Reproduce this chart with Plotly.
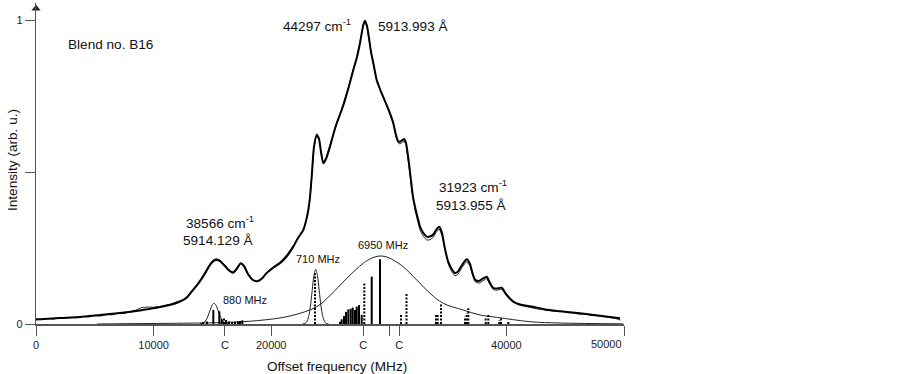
import plotly.graph_objects as go

# ---------------- data ----------------
# simulated spectrum (thick)
sim_x = [0, 2041, 3741, 5442, 7143, 8844, 9949, 10969, 11820, 12245, 12840, 13350, 13776, 14201,
         14541, 14796, 15051, 15306, 15646, 16071, 16412, 16752, 17091, 17406, 17687, 18027, 18452,
         18878, 19218, 19618, 20153, 20748, 21344, 21879, 22279, 22730, 22959, 23155, 23299, 23444,
         23639, 23869, 24065, 24235, 24430, 24660, 25000, 25340, 25570, 25995, 26276, 26616, 26981,
         27296, 27551, 27832, 27976, 28146, 28316, 28486, 28682, 28971, 29252, 29532, 29804, 30102,
         30357, 30612, 30782, 30952, 31293, 31463, 31658, 31803, 31947, 32058, 32228, 32483, 32653,
         32908, 33223, 33503, 33784, 34014, 34294, 34524, 34779, 35034, 35349, 35630, 35884, 36225,
         36625, 36905, 37117, 37330, 37670, 38010, 38325, 38605, 38886, 39200, 39600, 39966, 40587,
         41156, 42262, 43282, 44558, 46258, 47959, 49660]
sim_y = [0.0148, 0.0197, 0.0230, 0.0296, 0.0362, 0.0444, 0.0516, 0.0592, 0.0674, 0.0734, 0.0872,
         0.1118, 0.1316, 0.1556, 0.1776, 0.1941, 0.2056, 0.2105, 0.2072, 0.1908, 0.1760, 0.1688,
         0.1826, 0.1997, 0.1908, 0.1645, 0.1447, 0.1414, 0.1497, 0.1678, 0.1842, 0.1997, 0.2237,
         0.2543, 0.2829, 0.3092, 0.3388, 0.3750, 0.4178, 0.4845, 0.5832, 0.6217, 0.6086, 0.5658,
         0.5286, 0.5428, 0.5832, 0.6316, 0.6602, 0.7039, 0.7368, 0.7829, 0.8355, 0.8783, 0.9243,
         0.9836, 0.9977, 0.9803, 0.9408, 0.8947, 0.8586, 0.8026, 0.7730, 0.7467, 0.7220, 0.6931,
         0.6645, 0.6217, 0.6020, 0.5997, 0.6086, 0.5954, 0.5461, 0.5000, 0.4516, 0.4178, 0.3859,
         0.3454, 0.3201, 0.3010, 0.2872, 0.2878, 0.2944, 0.3092, 0.3201, 0.2993, 0.2467, 0.2072,
         0.1809, 0.1678, 0.1727, 0.1941, 0.2128, 0.1974, 0.1678, 0.1464, 0.1414, 0.1497, 0.1556,
         0.1349, 0.1184, 0.1168, 0.1194, 0.0987, 0.0734, 0.0641, 0.0569, 0.0480, 0.0420, 0.0350,
         0.0270, 0.0190]

# experimental spectrum (thin, noisy)
exp_x = [0, 500, 1000, 1500, 2000, 2500, 3000, 3500, 4000, 4500, 5000, 5500, 6000, 6500, 7000,
         7500, 8000, 8500, 9000, 9500, 10000, 10500, 11000, 11500, 12000, 12500,
         12840, 13350, 13776, 14201, 14541, 14796, 15051, 15306, 15646, 16071, 16412, 16752, 17091,
         17406, 17687, 18027, 18452, 18878, 19218, 19618, 20153, 20748, 21344, 21879, 22279, 22730,
         22959, 23155, 23299, 23444, 23639, 23869, 24065, 24235, 24430, 24660, 25000, 25340, 25570,
         25995, 26276, 26616, 26981, 27296, 27551, 27832, 27976, 28146, 28316, 28486, 28682, 28971,
         29252, 29532, 29804, 30102, 30357, 30612, 30782, 30952, 31293, 31463, 31658, 31803, 31947,
         32058, 32228, 32483, 32653, 32908, 33223, 33503, 33784, 34014, 34294, 34524, 34779, 35034,
         35349, 35630, 35884, 36225, 36625, 36905, 37117, 37330, 37670, 38010, 38325, 38605, 38886,
         39200, 39600, 39966, 40587,
         41200, 41700, 42200, 42700, 43200, 43700, 44200, 44700, 45200, 45700, 46200, 46700, 47200,
         47700, 48200, 48700, 49200, 49700]
exp_y = [0.017, 0.014, 0.018, 0.016, 0.021, 0.019, 0.022, 0.020, 0.025, 0.023, 0.028, 0.026, 0.031,
         0.030, 0.036, 0.034, 0.041, 0.046, 0.054, 0.056, 0.055, 0.057, 0.062, 0.066, 0.074, 0.080,
         0.091, 0.115, 0.135, 0.160, 0.183, 0.199, 0.211, 0.215, 0.211, 0.193, 0.178, 0.171, 0.184,
         0.199, 0.189, 0.162, 0.142, 0.139, 0.149, 0.170, 0.188, 0.204, 0.229, 0.258, 0.284, 0.308,
         0.336, 0.371, 0.413, 0.481, 0.580, 0.626, 0.612, 0.568, 0.531, 0.547, 0.589, 0.636, 0.662,
         0.708, 0.741, 0.786, 0.838, 0.882, 0.928, 0.985, 0.995, 0.975, 0.935, 0.890, 0.855, 0.800,
         0.770, 0.744, 0.719, 0.690, 0.662, 0.616, 0.596, 0.592, 0.602, 0.590, 0.540, 0.492, 0.442,
         0.408, 0.375, 0.334, 0.309, 0.289, 0.276, 0.277, 0.285, 0.301, 0.313, 0.292, 0.240, 0.199,
         0.172, 0.158, 0.163, 0.186, 0.206, 0.191, 0.161, 0.139, 0.134, 0.143, 0.150, 0.129, 0.113,
         0.111, 0.115, 0.095, 0.071,
         0.061, 0.056, 0.053, 0.049, 0.046, 0.044, 0.041, 0.042, 0.037, 0.036, 0.032, 0.033, 0.028,
         0.027, 0.024, 0.021, 0.019, 0.013]

# 880 MHz profile
g880_x = [13940, 14240, 14390, 14540, 14690, 14840, 14990, 15140, 15290, 15440, 15590, 15740,
          15890, 16040, 16340]
g880_y = [0.0004, 0.0038, 0.0091, 0.0188, 0.033, 0.049, 0.0628, 0.068, 0.0628, 0.049, 0.033,
          0.0188, 0.0091, 0.0038, 0.0004]

# 710 MHz profile
g710_x = [22684, 22884, 23034, 23184, 23334, 23484, 23634, 23784, 23934, 24084, 24234, 24384,
          24534, 24684, 24884]
g710_y = [0.0002, 0.0021, 0.0082, 0.0248, 0.059, 0.1097, 0.159, 0.18, 0.159, 0.1097, 0.059,
          0.0248, 0.0082, 0.0021, 0.0002]

# 6950 MHz profile
g6950_x = [5187, 9694, 13946, 15901, 18767, 21599, 23869, 25000, 26420, 27832, 28571, 29252,
           29932, 30527, 31233, 32373, 33503, 34635, 36335, 37755, 39175, 42007, 44558, 49915]
g6950_y = [0.0, 0.0016, 0.0033, 0.0049, 0.0109, 0.0263, 0.0569, 0.0938, 0.150, 0.200, 0.217,
           0.2237, 0.219, 0.207, 0.188, 0.145, 0.101, 0.068, 0.046, 0.0296, 0.022, 0.0076,
           0.0033, 0.0005]

# hyperfine component sticks
solid_pos = [14201, 14541, 15077, 15587, 15791, 16156, 16412, 16667, 16922, 17177, 17347, 17543,
             25850, 25995, 26190, 26361, 26556, 26760, 26931, 27126, 27271, 27466, 27696,
             28546, 29252]
solid_h = [0.0066, 0.008, 0.046, 0.042, 0.016, 0.013, 0.008, 0.006, 0.007, 0.008, 0.010, 0.012,
           0.0076, 0.0155, 0.026, 0.040, 0.048, 0.050, 0.054, 0.046, 0.057, 0.0625, 0.030,
           0.156, 0.213]
dash_pos = [15986, 23724, 27917, 31037, 31505, 34014, 34158, 34439, 36480, 36625, 36761, 38240,
            38461, 39397, 39541, 40161]
dash_h = [0.020, 0.167, 0.136, 0.030, 0.101, 0.030, 0.030, 0.068, 0.024, 0.035, 0.052, 0.019,
          0.032, 0.013, 0.019, 0.0076]

# axis ticks
x_tickvals = [0, 10000, 16071, 20000, 27832, 30017, 30892, 40000, 50000]
x_ticktext = ["0", "10000", "C", "20000", "C", "", "C", "40000", ""]
y_tickvals = [0, 0.5, 1]
y_ticktext = ["0", "", "1"]


def sticks(pos, h):
    xs, ys = [], []
    for p, v in zip(pos, h):
        xs += [p, p, None]
        ys += [0, v, None]
    return xs, ys


FONT = "Liberation Sans, Arial, sans-serif"
Y_TOP = 1.056
fig = go.Figure()

fig.add_trace(go.Scatter(x=g6950_x, y=g6950_y, mode="lines", line=dict(color="#222", width=1, shape="spline"),
                         hoverinfo="skip"))
fig.add_trace(go.Scatter(x=g880_x, y=g880_y, mode="lines", line=dict(color="#222", width=1, shape="spline"),
                         hoverinfo="skip"))
fig.add_trace(go.Scatter(x=g710_x, y=g710_y, mode="lines", line=dict(color="#222", width=1, shape="spline"),
                         hoverinfo="skip"))
sx, sy = sticks(solid_pos, solid_h)
fig.add_trace(go.Scatter(x=sx, y=sy, mode="lines", line=dict(color="black", width=2), connectgaps=False))
dx, dy = sticks(dash_pos, dash_h)
fig.add_trace(go.Scatter(x=dx, y=dy, mode="lines", line=dict(color="black", width=2, dash="2px,1.5px"),
                         connectgaps=False))
fig.add_trace(go.Scatter(x=exp_x, y=exp_y, mode="lines", line=dict(color="#333", width=1)))
fig.add_trace(go.Scatter(x=sim_x, y=sim_y, mode="lines", line=dict(color="black", width=2, shape="spline",
                                                                    smoothing=0.6)))
# arrowhead at the top of the y axis
fig.add_trace(go.Scatter(x=[0], y=[Y_TOP - 0.018], mode="markers", cliponaxis=False, hoverinfo="skip",
                         marker=dict(symbol="triangle-up", size=8, color="#222", line=dict(width=0))))

BIG = 13.6
ann = []
def txt(x, y, t, size=BIG, **kw):
    d = dict(x=x, y=y, xref="x", yref="y", text=t, showarrow=False,
             font=dict(family=FONT, size=size, color="#111"), xanchor="center", yanchor="middle")
    d.update(kw)
    ann.append(d)

txt(6293, 0.918, "Blend no. B16")
txt(23895, 0.985, "44297 cm<sup>-1</sup>")
txt(32058, 0.978, "5913.993 Å")
txt(15646, 0.336, "38566 cm<sup>-1</sup>")
txt(15476, 0.274, "5914.129 Å")
txt(37160, 0.453, "31923 cm<sup>-1</sup>")
txt(36990, 0.391, "5913.955 Å")
txt(17772, 0.079, "880 MHz", size=11)
txt(23937, 0.213, "710 MHz", size=11)
txt(29507, 0.260, "6950 MHz", size=11)
# right-aligned last x tick label
ann.append(dict(x=50000, y=0, xref="x", yref="y", text="50000", showarrow=False, xanchor="right",
                yanchor="middle", yshift=-20, font=dict(family=FONT, size=11, color="#222")))
# axis titles
ann.append(dict(x=(337 - 36) / 588, y=-(366 - 324) / 321, xref="paper", yref="paper",
                text="Offset frequency (MHz)", showarrow=False, xanchor="center", yanchor="middle",
                font=dict(family=FONT, size=BIG, color="#111")))
ann.append(dict(x=-(36 - 12) / 588, y=(324 - 160) / 321, xref="paper", yref="paper",
                text="Intensity (arb. u.)", showarrow=False, textangle=-90, xanchor="center",
                yanchor="middle", font=dict(family=FONT, size=BIG, color="#111")))

fig.update_layout(
    width=903, height=374,
    margin=dict(l=36, r=279, t=3, b=50, pad=0),
    paper_bgcolor="white", plot_bgcolor="white",
    showlegend=False,
    annotations=ann,
    xaxis=dict(range=[0, 50000], tickvals=x_tickvals, ticktext=x_ticktext, ticks="outside", ticklen=10,
               tickcolor="#555", tickwidth=1, showline=True, linecolor="#555", linewidth=1.5,
               showgrid=False, zeroline=False, tickfont=dict(family=FONT, size=11, color="#222")),
    yaxis=dict(range=[0, Y_TOP], tickvals=y_tickvals, ticktext=y_ticktext, ticks="outside", ticklen=10,
               tickcolor="#555", tickwidth=1, showline=True, linecolor="#555", linewidth=1.2,
               showgrid=False, zeroline=False, tickfont=dict(family=FONT, size=11, color="#222")),
)

fig.write_html("out.html", config={"displayModeBar": False},
               post_script="document.body.style.margin='0';document.body.style.overflow='hidden';")
